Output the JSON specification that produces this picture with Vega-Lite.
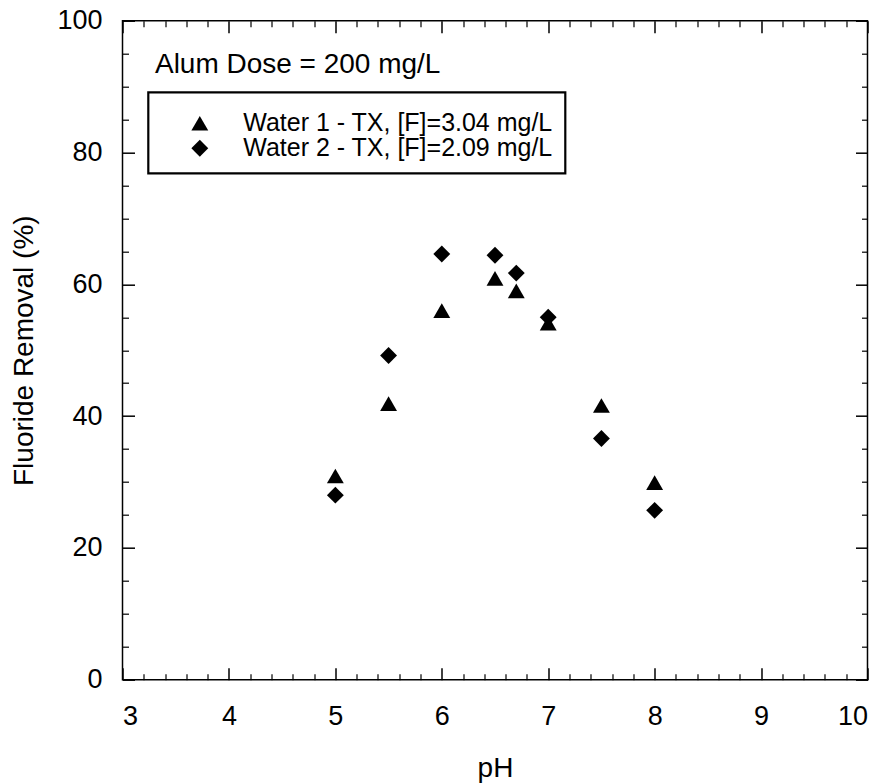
{
  "$schema": "https://vega.github.io/schema/vega-lite/v6.json",
  "width": 745,
  "height": 659,
  "autosize": "none",
  "padding": {"left": 122.5, "top": 20.7, "right": 17, "bottom": 104},
  "background": "white",
  "config": {
    "view": {"stroke": "black", "strokeWidth": 1.5},
    "font": "Liberation Sans",
    "axis": {
      "grid": false,
      "domain": false,
      "tickColor": "black",
      "tickWidth": 1.5,
      "labelFont": "Liberation Sans",
      "labelFontSize": 27,
      "labelColor": "black",
      "titleFont": "Liberation Sans",
      "titleFontSize": 28,
      "titleFontWeight": "normal",
      "titleColor": "black"
    },
    "legend": {"strokeColor": "black", "strokeWidth": 2.2}
  },
  "datasets": {
    "removal": [
      {"pH": 5.0, "removal": 30.9, "water": "Water 1 - TX, [F]=3.04 mg/L"},
      {"pH": 5.5, "removal": 41.9, "water": "Water 1 - TX, [F]=3.04 mg/L"},
      {"pH": 6.0, "removal": 56.0, "water": "Water 1 - TX, [F]=3.04 mg/L"},
      {"pH": 6.5, "removal": 60.9, "water": "Water 1 - TX, [F]=3.04 mg/L"},
      {"pH": 6.7, "removal": 59.0, "water": "Water 1 - TX, [F]=3.04 mg/L"},
      {"pH": 7.0, "removal": 54.1, "water": "Water 1 - TX, [F]=3.04 mg/L"},
      {"pH": 7.5, "removal": 41.6, "water": "Water 1 - TX, [F]=3.04 mg/L"},
      {"pH": 8.0, "removal": 29.9, "water": "Water 1 - TX, [F]=3.04 mg/L"},
      {"pH": 5.0, "removal": 28.0, "water": "Water 2 - TX, [F]=2.09 mg/L"},
      {"pH": 5.5, "removal": 49.2, "water": "Water 2 - TX, [F]=2.09 mg/L"},
      {"pH": 6.0, "removal": 64.6, "water": "Water 2 - TX, [F]=2.09 mg/L"},
      {"pH": 6.5, "removal": 64.4, "water": "Water 2 - TX, [F]=2.09 mg/L"},
      {"pH": 6.7, "removal": 61.7, "water": "Water 2 - TX, [F]=2.09 mg/L"},
      {"pH": 7.0, "removal": 55.0, "water": "Water 2 - TX, [F]=2.09 mg/L"},
      {"pH": 7.5, "removal": 36.6, "water": "Water 2 - TX, [F]=2.09 mg/L"},
      {"pH": 8.0, "removal": 25.7, "water": "Water 2 - TX, [F]=2.09 mg/L"}
    ],
    "note": [
      {"pH": 3.305, "removal": 92, "text": "Alum Dose = 200 mg/L"}
    ]
  },
  "data": {"name": "removal"},
  "layer": [
    {
      "mark": {"type": "point", "filled": true, "size": 285, "opacity": 1, "color": "black"},
      "encoding": {
        "x": {
          "field": "pH", "type": "quantitative",
          "scale": {"domain": [3, 10], "nice": false, "zero": false},
          "axis": {"orient": "bottom", "values": [3, 4, 5, 6, 7, 8, 9, 10], "ticks": false, "labelPadding": 24, "title": "pH", "titlePadding": 25}
        },
        "y": {
          "field": "removal", "type": "quantitative",
          "scale": {"domain": [0, 100], "nice": false},
          "axis": {"orient": "left", "values": [0, 20, 40, 60, 80, 100], "ticks": false, "labelPadding": 20.5, "title": "Fluoride Removal (%)", "titlePadding": 18}
        },
        "shape": {
          "field": "water", "type": "nominal",
          "scale": {"domain": ["Water 1 - TX, [F]=3.04 mg/L", "Water 2 - TX, [F]=2.09 mg/L"], "range": ["triangle-up", "diamond"]},
          "legend": {
            "orient": "none",
            "legendX": 25.8,
            "legendY": 71.6,
            "title": " ",
            "titleFontSize": 1,
            "titlePadding": 6,
            "padding": 12,
            "strokeColor": "black",
            "labelFont": "Liberation Sans",
            "labelFontSize": 25,
            "labelColor": "black",
            "labelLimit": 500,
            "symbolSize": 285,
            "symbolOffset": 27,
            "labelOffset": 31,
            "clipHeight": 24,
            "rowPadding": 0,
            "encode": {
              "legend": {"update": {"stroke": {"value": "black"}, "strokeWidth": {"value": 2.2}}}
            }
          }
        }
      }
    },
    {
      "mark": {"type": "point", "opacity": 0},
      "encoding": {
        "x": {"field": "pH", "type": "quantitative", "axis": {"orient": "bottom", "offset": -12, "values": [3, 4, 5, 6, 7, 8, 9, 10], "tickSize": 12, "labels": false, "title": null}},
        "y": {"field": "removal", "type": "quantitative", "axis": {"orient": "left", "offset": -12, "values": [0, 20, 40, 60, 80, 100], "tickSize": 12, "labels": false, "title": null}}
      }
    },
    {
      "mark": {"type": "point", "opacity": 0},
      "encoding": {
        "x": {"field": "pH", "type": "quantitative", "axis": {"orient": "bottom", "offset": -6, "values": [3.2, 3.4, 3.6, 3.8, 4.2, 4.4, 4.6, 4.8, 5.2, 5.4, 5.6, 5.8, 6.2, 6.4, 6.6, 6.8, 7.2, 7.4, 7.6, 7.8, 8.2, 8.4, 8.6, 8.8, 9.2, 9.4, 9.6, 9.8], "tickSize": 6, "tickWidth": 1.2, "labels": false, "title": null}},
        "y": {"field": "removal", "type": "quantitative", "axis": {"orient": "left", "offset": -6, "values": [5, 10, 15, 25, 30, 35, 45, 50, 55, 65, 70, 75, 85, 90, 95], "tickSize": 6, "tickWidth": 1.2, "labels": false, "title": null}}
      }
    },
    {
      "mark": {"type": "point", "opacity": 0},
      "encoding": {
        "x": {"field": "pH", "type": "quantitative", "axis": {"orient": "top", "offset": -12, "values": [3, 4, 5, 6, 7, 8, 9, 10], "tickSize": 12, "labels": false, "title": null}},
        "y": {"field": "removal", "type": "quantitative", "axis": {"orient": "right", "offset": -12, "values": [0, 20, 40, 60, 80, 100], "tickSize": 12, "labels": false, "title": null}}
      }
    },
    {
      "mark": {"type": "point", "opacity": 0},
      "encoding": {
        "x": {"field": "pH", "type": "quantitative", "axis": {"orient": "top", "offset": -6, "values": [3.2, 3.4, 3.6, 3.8, 4.2, 4.4, 4.6, 4.8, 5.2, 5.4, 5.6, 5.8, 6.2, 6.4, 6.6, 6.8, 7.2, 7.4, 7.6, 7.8, 8.2, 8.4, 8.6, 8.8, 9.2, 9.4, 9.6, 9.8], "tickSize": 6, "tickWidth": 1.2, "labels": false, "title": null}},
        "y": {"field": "removal", "type": "quantitative", "axis": {"orient": "right", "offset": -6, "values": [5, 10, 15, 25, 30, 35, 45, 50, 55, 65, 70, 75, 85, 90, 95], "tickSize": 6, "tickWidth": 1.2, "labels": false, "title": null}}
      }
    },
    {
      "data": {"name": "note"},
      "mark": {"type": "text", "align": "left", "baseline": "alphabetic", "font": "Liberation Sans", "fontSize": 28, "color": "black"},
      "encoding": {
        "x": {"field": "pH", "type": "quantitative", "axis": null},
        "y": {"field": "removal", "type": "quantitative", "axis": null},
        "text": {"field": "text"}
      }
    }
  ],
  "resolve": {"axis": {"x": "independent", "y": "independent"}}
}
